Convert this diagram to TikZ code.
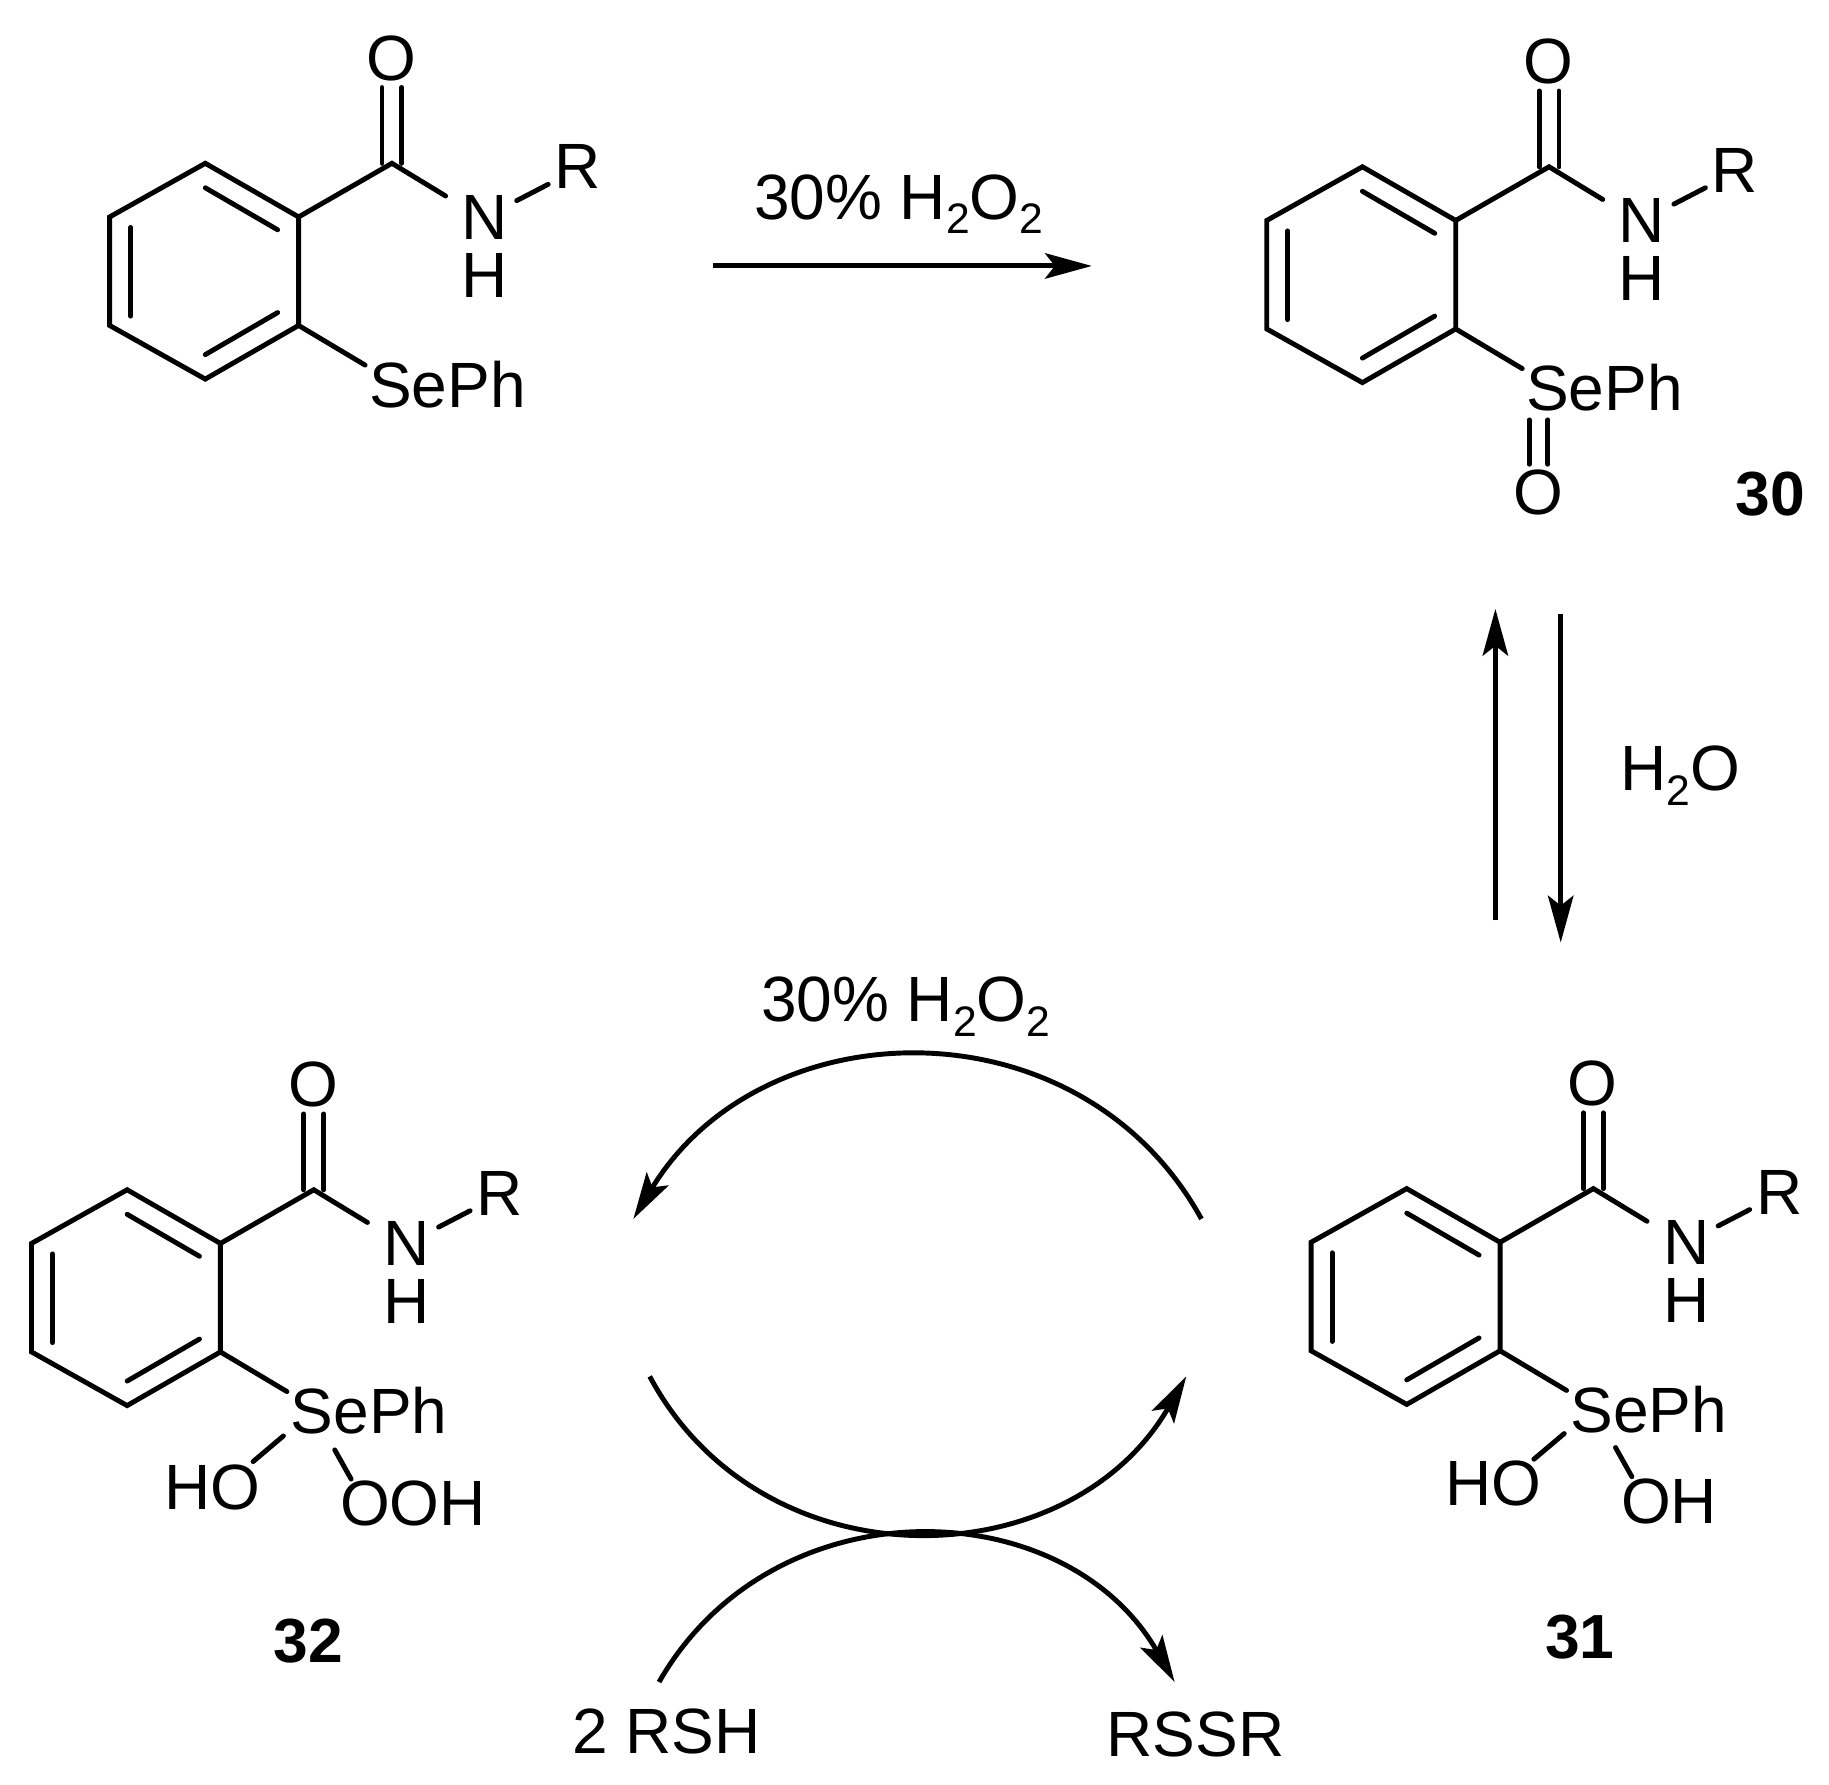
\documentclass[tikz,border=0pt]{standalone}
\usepackage{fontspec}
\setmainfont{Liberation Sans}
\usetikzlibrary{arrows.meta}
\newcommand{\subn}[1]{\raisebox{-0.42ex}{\fontsize{10.4}{10}\selectfont #1}}
\tikzset{
  bond/.style={line width=1.2pt,line cap=round,line join=miter},
  rxn/.style={line width=1.2pt,-{Stealth[length=11.4pt,width=6.2pt,inset=2.4pt]}},
  lab/.style={anchor=base,inner sep=0pt,outer sep=0pt,font=\fontsize{15.6}{18}\selectfont},
  num/.style={anchor=base,inner sep=0pt,outer sep=0pt,font=\fontsize{15.2}{18}\selectfont\bfseries},
}
% #1 prefix, #2 dx, #3 dy
\newcommand{\amidering}[3]{%
\begin{scope}[shift={(#2,#3)}]
  \coordinate (#1a) at (176,140);
  \coordinate (#1b) at (256,186);
  \coordinate (#1c) at (256,279);
  \coordinate (#1d) at (176,325);
  \coordinate (#1e) at (94,279);
  \coordinate (#1f) at (94,186);
  \coordinate (#1ga) at (176,161);
  \coordinate (#1gb) at (238,197);
  \coordinate (#1ha) at (238,268);
  \coordinate (#1hb) at (176,304);
  \coordinate (#1ia) at (112,271);
  \coordinate (#1ib) at (112,195);
  \coordinate (#1co) at (336,140);
  \coordinate (#1o1a) at (327.5,140);
  \coordinate (#1o1b) at (327.5,75);
  \coordinate (#1o2a) at (344.5,140);
  \coordinate (#1o2b) at (344.5,75);
  \coordinate (#1nin) at (382,168);
  \coordinate (#1nout) at (443,172);
  \coordinate (#1rin) at (470,158);
  \coordinate (#1se) at (313,313);
  \node[lab] (#1O) at (335.5,69) {O};
  \node[lab] (#1N) at (415.5,205) {N};
  \node[lab] (#1H) at (415.5,255) {H};
  \node[lab] (#1R) at (495.5,162) {R};
  \node[lab] (#1SePh) at (383.5,349) {SePh};
  \draw[bond] (#1a) -- (#1b) -- (#1c) -- (#1d) -- (#1e) -- (#1f) -- cycle;
  \draw[bond] (#1ga) -- (#1gb);
  \draw[bond] (#1ha) -- (#1hb);
  \draw[bond] (#1ia) -- (#1ib);
  \draw[bond] (#1b) -- (#1co) -- (#1nin);
  \draw[bond] (#1o1a) -- (#1o1b);
  \draw[bond] (#1o2a) -- (#1o2b);
  \draw[bond] (#1nout) -- (#1rin);
  \draw[bond] (#1c) -- (#1se);
\end{scope}}
\begin{document}
\begin{tikzpicture}[x=0.01cm,y=-0.01cm]
\useasboundingbox[fill=white] (0,0) rectangle (1568,1530);

\amidering{p}{0}{0}
\amidering{q}{992}{3}
\amidering{s}{-67}{880}
\amidering{t}{1030}{879}

% 30
\coordinate (qs1a) at (1311,360); \coordinate (qs1b) at (1311,398);
\coordinate (qs2a) at (1327,360); \coordinate (qs2b) at (1327,398);
\draw[bond] (qs1a) -- (qs1b);
\draw[bond] (qs2a) -- (qs2b);
\node[lab] (qO2) at (1319,441) {O};
\node[num] (n30) at (1517.5,442) {30};

% 32
\coordinate (sb1a) at (243,1231); \coordinate (sb1b) at (217,1253);
\coordinate (sb2a) at (287,1243); \coordinate (sb2b) at (301,1268);
\draw[bond] (sb1a) -- (sb1b);
\draw[bond] (sb2a) -- (sb2b);
\node[lab] (sHO) at (182,1294) {HO};
\node[lab] (sOOH) at (354,1308) {OOH};
\node[num] (n32) at (264.5,1425) {32};

% 31
\coordinate (tb1a) at (1341,1229); \coordinate (tb1b) at (1315,1251);
\coordinate (tb2a) at (1385,1241); \coordinate (tb2b) at (1399,1266);
\draw[bond] (tb1a) -- (tb1b);
\draw[bond] (tb2a) -- (tb2b);
\node[lab] (tHO) at (1280,1291) {HO};
\node[lab] (tOH) at (1431,1306) {OH};
\node[num] (n31) at (1354.5,1422) {31};

% reaction labels
\node[lab] (h1) at (770.5,188) {30\% H\subn{2}O\subn{2}};
\node[lab] (h2) at (776.5,876) {30\% H\subn{2}O\subn{2}};
\node[lab,anchor=base west] (w) at (1389,678) {H\subn{2}O};
\node[lab] (rsh) at (571.5,1503) {2 RSH};
\node[lab] (rssr) at (1025,1506) {RSSR};

% straight arrows
\coordinate (a1s) at (611,228); \coordinate (a1e) at (936,228);
\draw[rxn] (a1s) -- (a1e);
\coordinate (a2s) at (1282,789); \coordinate (a2e) at (1282,522);
\draw[rxn] (a2s) -- (a2e);
\coordinate (a3s) at (1338,526); \coordinate (a3e) at (1338,808);
\draw[rxn] (a3s) -- (a3e);

% curved arrows (second control offsets allow for the shortening at the tip)
\coordinate (c1s) at (1030,1045); \coordinate (c1e) at (543,1045);
\draw[rxn] (c1s) .. controls +(-104,-189) and +(110,-182) .. (c1e);
\coordinate (c2s) at (557,1180); \coordinate (c2e) at (1017,1180);
\draw[rxn] (c2s) .. controls +(97,181) and +(-100,174) .. (c2e);
\coordinate (c3s) at (565,1442); \coordinate (c3e) at (1007,1442);
\draw[rxn] (c3s) .. controls +(98,-171) and +(-94,-164) .. (c3e);
\end{tikzpicture}
\end{document}
